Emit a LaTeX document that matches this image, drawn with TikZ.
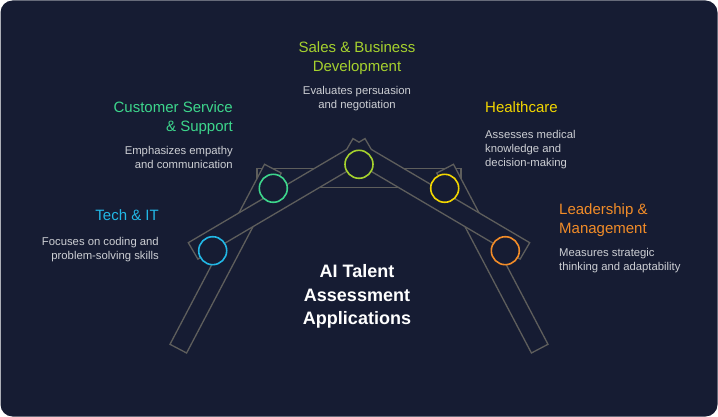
\documentclass[tikz,border=0pt]{standalone}
\usepackage{fontspec}
\setmainfont{Liberation Sans}
\definecolor{bg}{HTML}{161C33}
\definecolor{barc}{HTML}{5E5E5C}
\definecolor{techc}{HTML}{22B8E6}
\definecolor{custc}{HTML}{3DD68C}
\definecolor{salesc}{HTML}{A6D22E}
\definecolor{healc}{HTML}{F2D600}
\definecolor{leadc}{HTML}{F28C28}
\definecolor{descc}{HTML}{CDCFD4}
\tikzset{
  bar/.style={draw=barc, fill=bg, line width=1.3pt, line join=miter},
  joint/.style={circle, minimum size=28pt, inner sep=0pt, fill=bg, line width=1.6pt},
  ttl/.style={inner sep=0pt, font=\fontsize{15}{19}\selectfont},
  dsc/.style={inner sep=0pt, text=descc, font=\fontsize{11.3}{14}\selectfont},
  mainttl/.style={inner sep=0pt, text=white, align=center, font=\fontsize{18}{23.5}\selectfont\bfseries}
}
\begin{document}
\begin{tikzpicture}[x=1pt,y=-1pt]
\useasboundingbox (0,0) rectangle (718,417);
\fill[white] (0,0) rectangle (718,417);
\fill[bg, rounded corners=12pt] (0.5,0.5) rectangle (717.5,416.5);
% platform
\draw[bar] (257,168.3) rectangle (461,187.3);
% legs
\draw[bar] (170,344.3) -- (186.6,353.0) -- (281.2,173.0) -- (264.5,164.3) -- cycle;
\draw[bar] (548,344.3) -- (531.4,353.0) -- (436.8,173.0) -- (453.5,164.3) -- cycle;
% upper arms (union outline)
\draw[bar] (197.9,259.1) -- (188.3,242.7) -- (346.7,149.4) -- (353,138.6) -- (359,142.2)
  -- (365,138.6) -- (371.3,149.4) -- (529.7,242.7) -- (520.1,259.1) -- (359,164.2) -- cycle;
% joints
\node[joint, draw=techc] (tech) at (212.7,250.7) {};
\node[joint, draw=custc] (cust) at (273.3,188.3) {};
\node[joint, draw=salesc] (sales) at (359,164.3) {};
\node[joint, draw=healc] (heal) at (444.7,188.3) {};
\node[joint, draw=leadc] (lead) at (505.3,250.7) {};
% texts
\node[ttl, text=techc, align=right, anchor=north east] (techT) at (159,209.5) {Tech \& IT};
\node[dsc, align=right, anchor=north east] (techD) at (159,237) {Focuses on coding and\\problem-solving skills};
\node[ttl, text=custc, align=right, anchor=north east] (custT) at (233,101) {Customer Service\\\& Support};
\node[dsc, align=right, anchor=north east] (custD) at (233,146) {Emphasizes empathy\\and communication};
\node[ttl, text=salesc, align=center, anchor=north] (salesT) at (357,41.5) {Sales \& Business\\Development};
\node[dsc, align=center, anchor=north] (salesD) at (357,86) {Evaluates persuasion\\and negotiation};
\node[ttl, text=healc, align=left, anchor=north west] (healT) at (485,101.5) {Healthcare};
\node[dsc, align=left, anchor=north west] (healD) at (485,130) {Assesses medical\\knowledge and\\decision-making};
\node[ttl, text=leadc, align=left, anchor=north west] (leadT) at (559,203.5) {Leadership \&\\Management};
\node[dsc, align=left, anchor=north west] (leadD) at (559,248) {Measures strategic\\thinking and adaptability};
\node[mainttl, anchor=north] (main) at (357,264.5) {AI Talent\\Assessment\\Applications};
\end{tikzpicture}
\end{document}
